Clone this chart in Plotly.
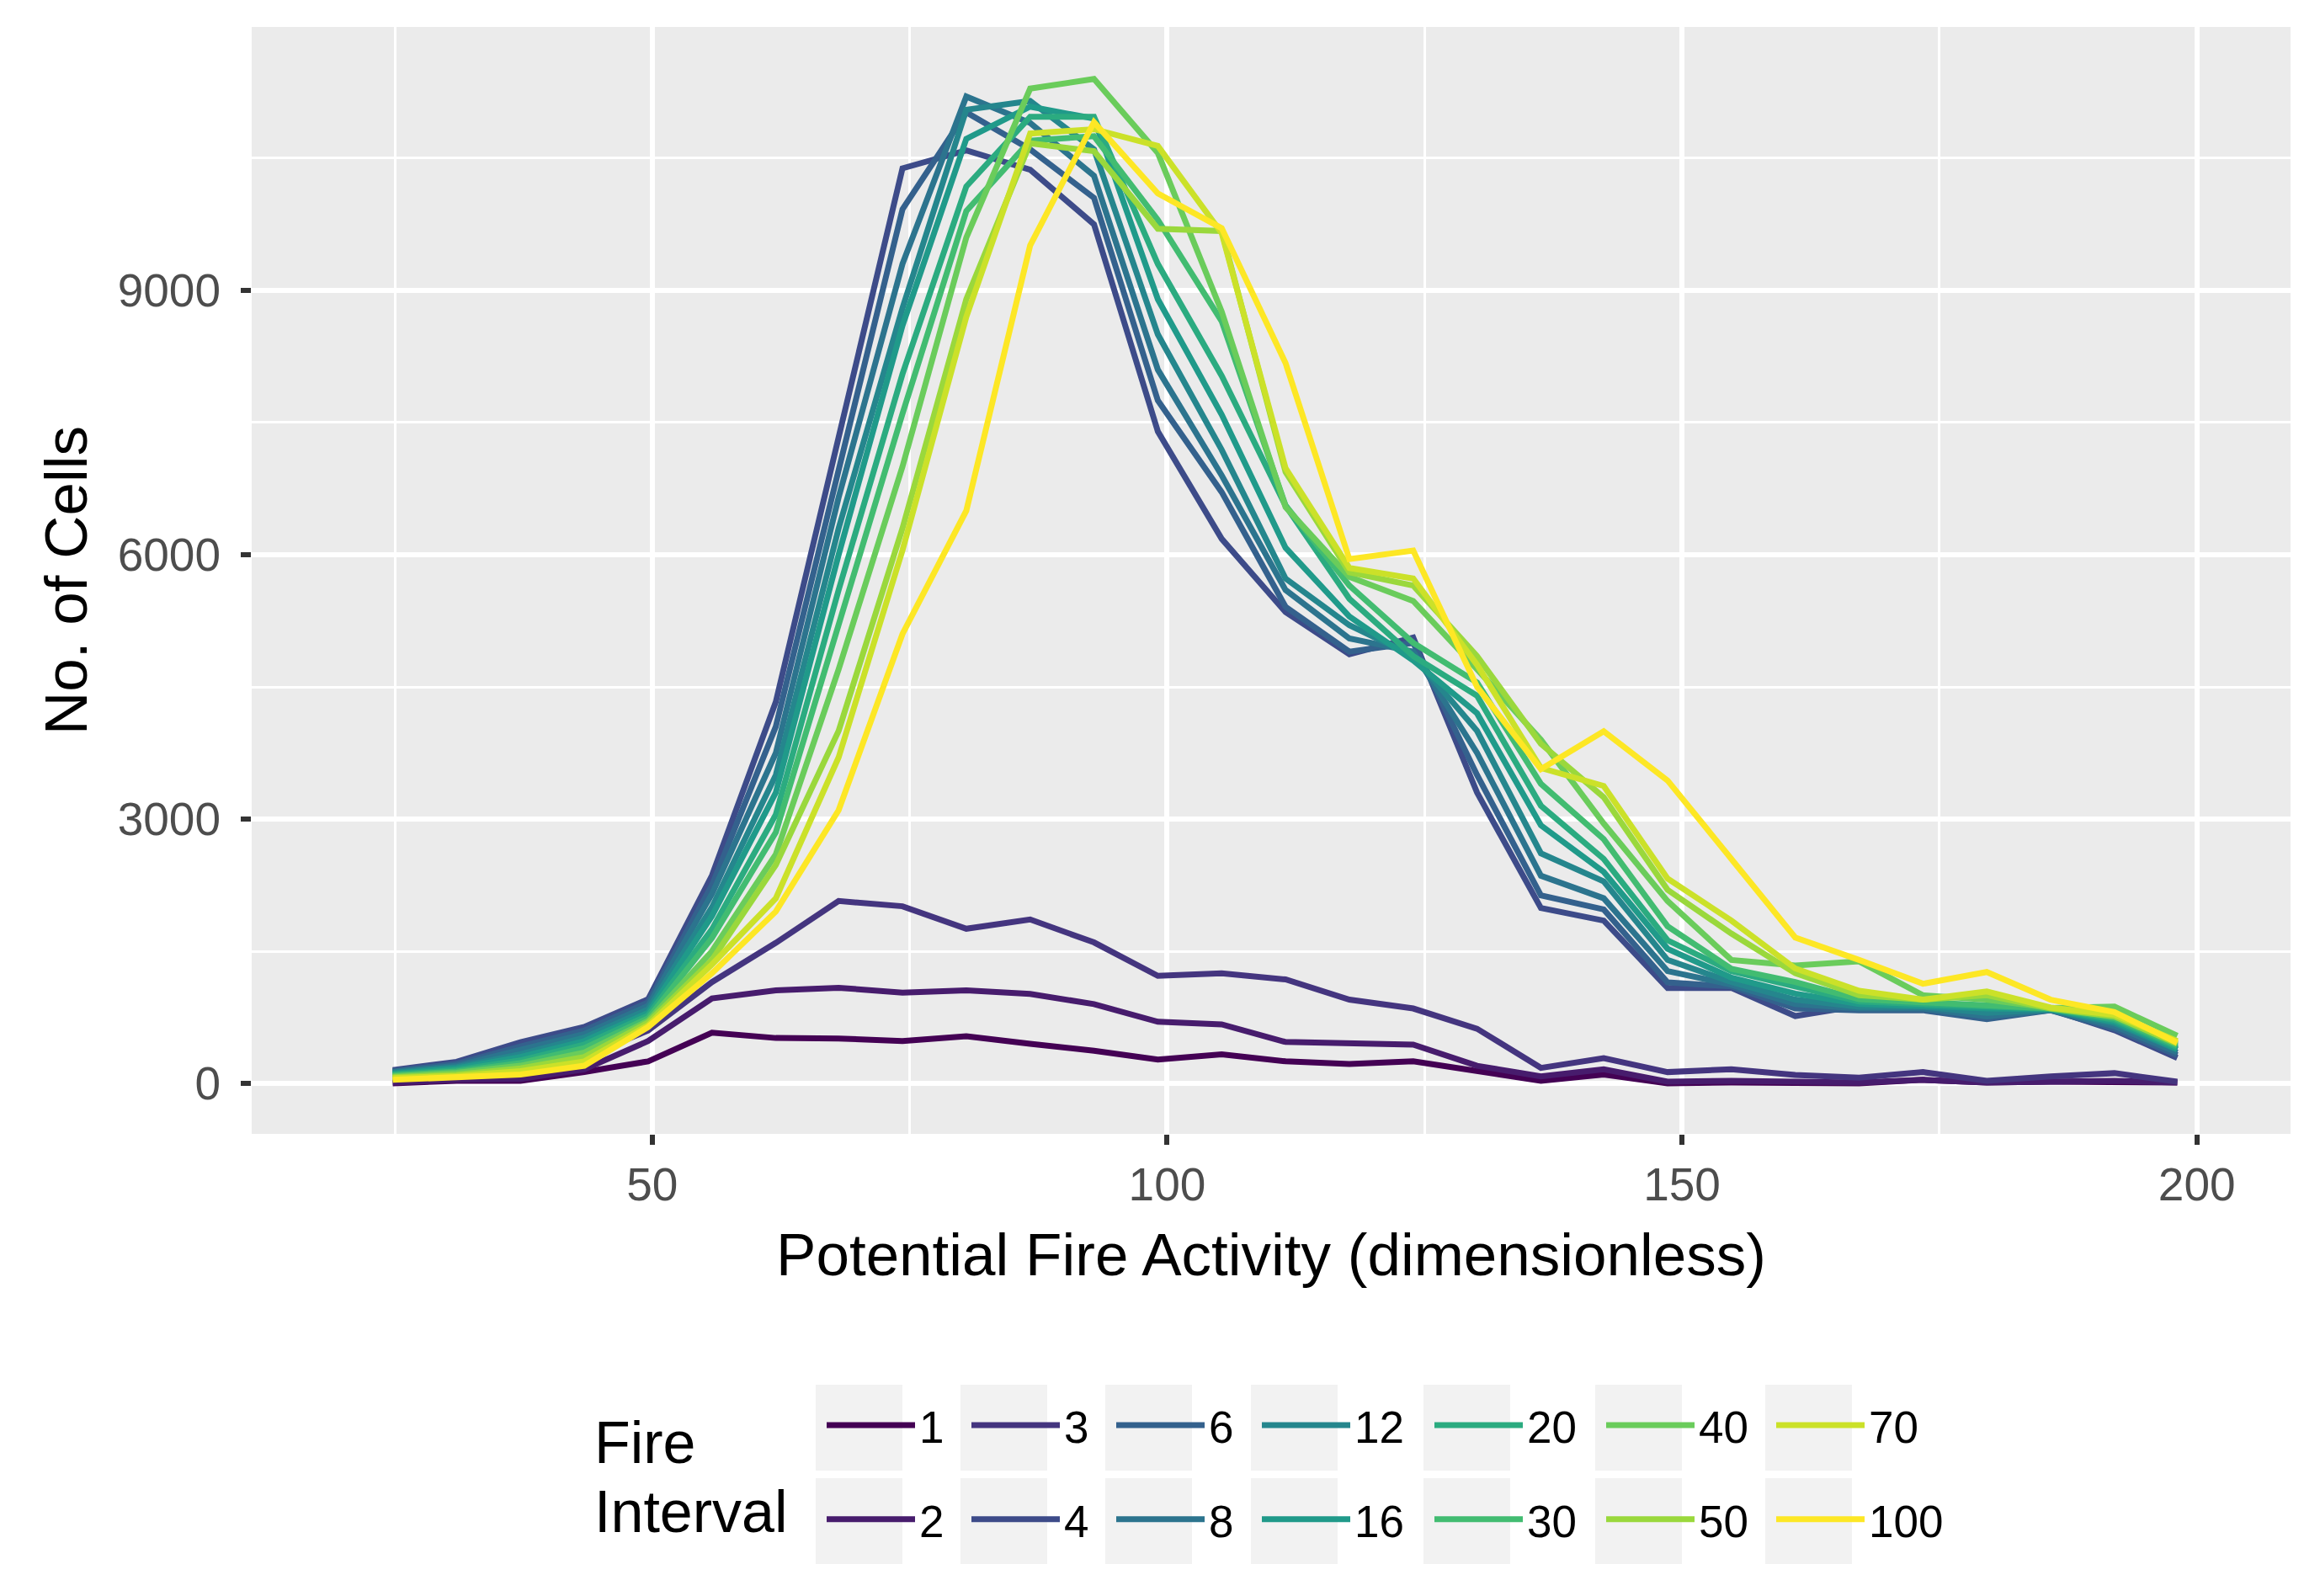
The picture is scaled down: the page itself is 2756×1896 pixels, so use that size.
import plotly.graph_objects as go
from plotly.colors import sample_colorscale

# ---------------- data ----------------
X = [24.8, 31.0, 37.2, 43.4, 49.6, 55.8, 62.0, 68.1, 74.3, 80.5, 86.7, 92.9, 99.1, 105.3,
     111.5, 117.7, 123.9, 130.1, 136.3, 142.4, 148.6, 154.8, 161.0, 167.2, 173.4, 179.6,
     185.8, 192.0, 198.1]

INTERVALS = ["1", "2", "3", "4", "6", "8", "12", "16", "20", "30", "40", "50", "70", "100"]

S1 = [0, 30, 30, 130, 250, 575, 515, 510, 480, 535, 450, 370, 270, 330, 250, 220, 250, 140, 30, 100, 0, 10, 10, 0, 40, 10, 20, 20, 10]
S2 = [10, 40, 50, 160, 480, 965, 1055, 1085, 1030, 1055, 1015, 900, 700, 670, 470, 460, 440, 200, 80, 160, 20, 30, 20, 10, 40, 10, 20, 30, 10]
S3 = [50, 80, 150, 300, 600, 1150, 1595, 2070, 2010, 1755, 1860, 1600, 1220, 1250, 1180, 950, 850, 620, 176, 287, 128, 160, 96, 64, 128, 30, 80, 116, 20]
S4 = [150, 245, 468, 640, 955, 2360, 4330, 7350, 10385, 10590, 10370, 9750, 7400, 6180, 5350, 4870, 5060, 3300, 1990, 1847, 1083, 1083, 764, 880, 850, 780, 840, 604, 289]
S6 = [140, 220, 420, 600, 920, 2250, 4050, 6950, 9920, 11020, 10600, 10050, 7750, 6710, 5410, 4900, 5000, 3500, 2134, 1974, 1146, 1100, 850, 830, 830, 729, 830, 620, 320]
S8 = [130, 200, 380, 560, 880, 2150, 3750, 6650, 9300, 11200, 10900, 10300, 8100, 6900, 5600, 5050, 4900, 3750, 2356, 2101, 1274, 1120, 900, 850, 850, 760, 830, 650, 350]
S12 = [120, 185, 330, 520, 840, 2000, 3500, 6300, 8800, 11050, 11150, 10600, 8500, 7190, 5730, 5200, 4850, 4000, 2611, 2293, 1401, 1150, 950, 870, 870, 800, 835, 680, 383]
S16 = [110, 170, 300, 480, 800, 1900, 3300, 6000, 8600, 10720, 11085, 10950, 8900, 7590, 6079, 5300, 4800, 4200, 2929, 2400, 1528, 1200, 1019, 900, 880, 850, 840, 700, 390]
S20 = [100, 150, 260, 440, 770, 1750, 3050, 5600, 8050, 10180, 10970, 10970, 9300, 8030, 6557, 5500, 4850, 4400, 3152, 2548, 1624, 1274, 1100, 930, 900, 880, 845, 720, 410]
S30 = [90, 135, 230, 400, 740, 1650, 2850, 5200, 7600, 9900, 10700, 10750, 9800, 8650, 6560, 5650, 5000, 4550, 3400, 2771, 1783, 1300, 1150, 955, 920, 900, 850, 740, 430]
S40 = [80, 120, 200, 350, 710, 1500, 2600, 4700, 7000, 9600, 11290, 11400, 10560, 8760, 6540, 5750, 5475, 4700, 3900, 2950, 2070, 1401, 1337, 1385, 1000, 950, 855, 871, 541]
S50 = [70, 100, 170, 300, 690, 1400, 2480, 4000, 6300, 8900, 10670, 10580, 9700, 9674, 6939, 5800, 5650, 4850, 3853, 3248, 2197, 1700, 1250, 1000, 950, 1000, 850, 760, 450]
S70 = [60, 85, 140, 250, 660, 1350, 2100, 3700, 6050, 8700, 10780, 10830, 10640, 9650, 6983, 5850, 5730, 4750, 3580, 3375, 2325, 1847, 1305, 1051, 950, 1044, 860, 778, 480]
S100 = [40, 70, 100, 200, 640, 1250, 1950, 3100, 5100, 6500, 9510, 10910, 10100, 9706, 8176, 5950, 6048, 4500, 3566, 3996, 3438, 2547, 1656, 1401, 1131, 1264, 950, 809, 461]

SERIES = [S1, S2, S3, S4, S6, S8, S12, S16, S20, S30, S40, S50, S70, S100]

X_TICKS = [50, 100, 150, 200]
Y_TICKS = [0, 3000, 6000, 9000]

# ---------------- layout geometry ----------------
W, H = 2756, 1896
ML, MR, MT, MB = 299, 35, 32, 549
PW, PH = W - ML - MR, H - MT - MB


def pxx(px):
    return (px - ML) / PW


def pxy(py):
    return (H - MB - py) / PH


colors = sample_colorscale("Viridis", [i / (len(INTERVALS) - 1) for i in range(len(INTERVALS))])

FONT = "Liberation Sans, Arial, sans-serif"

fig = go.Figure()

ncols = 7
legend_names = ["legend"] + [f"legend{k}" for k in range(2, ncols + 1)]

for i, (name, ys) in enumerate(zip(INTERVALS, SERIES)):
    col = i // 2
    fig.add_trace(go.Scatter(
        x=X, y=ys, mode="lines", name=name,
        line=dict(color=colors[i], width=7),
        legend=legend_names[col], legendgroup=name,
    ))

# legend columns (ggplot-style: 2 rows, column-major)
box_left = [969, 1141, 1313, 1486, 1691, 1895, 2097]
box_w = 103
row_top = [1645, 1756]
box_h = 102

legend_layouts = {}
for c in range(ncols):
    legend_layouts[legend_names[c]] = dict(
        x=pxx(box_left[c] + 8), xanchor="left",
        y=pxy(row_top[0] + 7), yanchor="top",
        orientation="v", bgcolor="rgba(0,0,0,0)",
        font=dict(family=FONT, size=53, color="black"),
        itemwidth=105, tracegroupgap=40,
    )

shapes = []
for c in range(ncols):
    for r in range(2):
        shapes.append(dict(
            type="rect", xref="paper", yref="paper",
            x0=pxx(box_left[c]), x1=pxx(box_left[c] + box_w),
            y0=pxy(row_top[r]), y1=pxy(row_top[r] + box_h),
            fillcolor="#f2f2f2", line=dict(width=0), layer="below",
        ))

annotations = [
    dict(text="Fire", xref="paper", yref="paper", x=pxx(704), y=pxy(1714),
         xanchor="left", yanchor="middle", showarrow=False,
         font=dict(family=FONT, size=70, color="black")),
    dict(text="Interval", xref="paper", yref="paper", x=pxx(704), y=pxy(1796),
         xanchor="left", yanchor="middle", showarrow=False,
         font=dict(family=FONT, size=70, color="black")),
]

fig.update_layout(
    width=W, height=H,
    margin=dict(l=ML, r=MR, t=MT, b=MB, autoexpand=False),
    paper_bgcolor="white", plot_bgcolor="#ebebeb",
    font=dict(family=FONT, color="black"),
    shapes=shapes, annotations=annotations,
    showlegend=True,
    **legend_layouts,
)

fig.update_xaxes(
    range=[11.1, 209.1], tickvals=X_TICKS, ticktext=[str(v) for v in X_TICKS],
    showgrid=True, gridcolor="white", gridwidth=6,
    minor=dict(tickvals=[25, 75, 125, 175], showgrid=True, gridcolor="white", gridwidth=3, ticks=""),
    zeroline=False, showline=False,
    ticks="outside", ticklen=12, tickwidth=5.5, tickcolor="#333333",
    ticklabelstandoff=0,
    tickfont=dict(family=FONT, size=55, color="#4d4d4d"),
    title=dict(text="Potential Fire Activity (dimensionless)", standoff=28,
               font=dict(family=FONT, size=71, color="black")),
    automargin=False,
)
fig.update_yaxes(
    range=[-573, 11990], tickvals=Y_TICKS, ticktext=[str(v) for v in Y_TICKS],
    showgrid=True, gridcolor="white", gridwidth=6,
    minor=dict(tickvals=[1500, 4500, 7500, 10500], showgrid=True, gridcolor="white", gridwidth=3, ticks=""),
    zeroline=False, showline=False,
    ticks="outside", ticklen=12, tickwidth=5.5, tickcolor="#333333",
    ticklabelstandoff=13,
    tickfont=dict(family=FONT, size=55, color="#4d4d4d"),
    title=dict(text="No. of Cells", standoff=12,
               font=dict(family=FONT, size=71, color="black")),
    automargin=False,
)

fig.write_html(
    "out.html",
    config={"displayModeBar": False},
    post_script="document.body.style.margin='0px';document.body.style.overflow='hidden';",
)
